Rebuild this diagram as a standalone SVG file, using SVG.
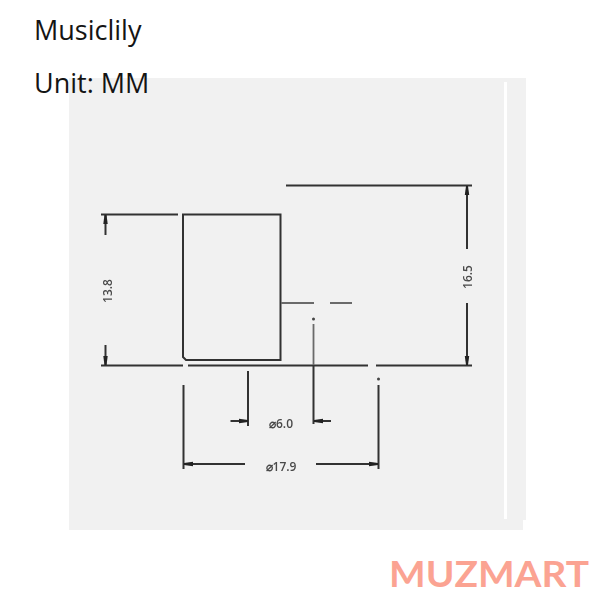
<svg xmlns="http://www.w3.org/2000/svg" width="600" height="600" viewBox="0 0 600 600">
<style>
.l{stroke:#333;stroke-width:2;fill:none}
.t{stroke:#6a6a6a;stroke-width:1.800;fill:none}
.d{font-family:"Open Sans","Liberation Sans",sans-serif;font-size:12px;font-weight:600;fill:#4a4a4a;text-anchor:middle}
.h{font-family:"Open Sans","Liberation Sans",sans-serif;font-size:27px;fill:#141414}
.s{filter:url(#b)}
</style>
<defs>
<filter id="b" x="-5%" y="-5%" width="110%" height="110%"><feGaussianBlur stdDeviation="0.35"/></filter>
<marker id="a" viewBox="0 0 9 6" refX="9" refY="3" markerWidth="9" markerHeight="6" markerUnits="userSpaceOnUse" orient="auto-start-reverse"><path d="M0 0.8L9 2L9 4L0 5.200Z" fill="#222"/></marker>
</defs>
<rect width="600" height="600" fill="#fff"/>
<g id="panel">
<path d="M69 78H526V520H523V530H69Z" fill="#f1f1f1"/>
<rect x="504" y="82" width="3" height="437" fill="#fff"/>
</g>
<text class="h" x="34" y="40">Musiclily</text>
<text class="h" x="34" y="93">Unit: MM</text>
<g class="s">
<g id="part">
<path class="l" d="M183 214.500H280.500V360H186L183 357Z"/>
</g>
<g id="connectors">
<path class="l" d="M101 214.500H178M101 365.500H183M188 365.500H368M376 365.500H472M286 185.500H472"/>
<path class="t" d="M281 303H314M330 303H352M313.500 324V365"/>
<path class="l" d="M313.500 365V424"/>
<path class="l" d="M105.500 235V215" marker-end="url(#a)"/>
<path class="l" d="M105.500 345V365" marker-end="url(#a)"/>
<path class="l" d="M467 249V186" marker-end="url(#a)"/>
<path class="l" d="M467 303V365" marker-end="url(#a)"/>
<path class="l" d="M248 371V426M183.500 385V469M378.500 385V469"/>
<path class="l" d="M230.500 421H248" marker-end="url(#a)"/>
<path class="l" d="M331 421H314" marker-end="url(#a)"/>
<path class="l" d="M245 464H184" marker-end="url(#a)"/>
<path class="l" d="M316 464H378" marker-end="url(#a)"/>
<circle cx="378.500" cy="379" r="1.500" fill="#444"/>
<circle cx="313.500" cy="319" r="1.500" fill="#444"/>
</g>
<g id="labels">
<text class="d" transform="translate(112 291) rotate(-90)">13.8</text>
<text class="d" transform="translate(472 277) rotate(-90)">16.5</text>
<text class="d" x="281" y="428">⌀6.0</text>
<text class="d" x="281" y="471">⌀17.9</text>
</g>
</g>
<g id="logo"><text x="389" y="587" font-family="Lato,'Open Sans',sans-serif" font-size="37" font-weight="700" fill="#fba392" textLength="200" lengthAdjust="spacingAndGlyphs">MUZMART</text></g>
</svg>
